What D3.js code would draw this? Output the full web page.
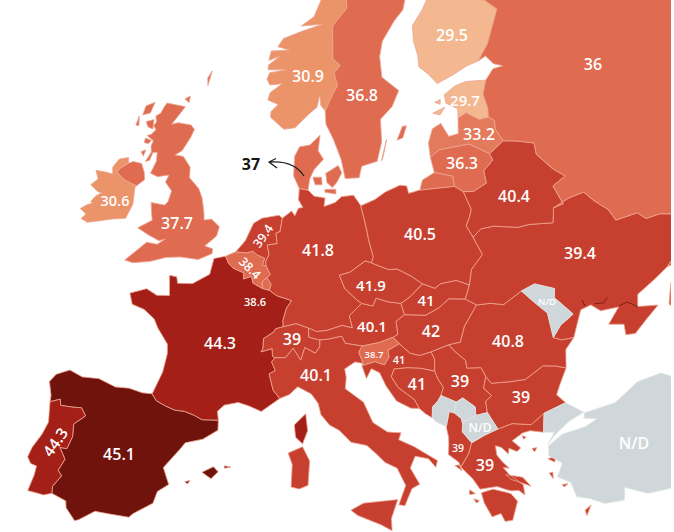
<!DOCTYPE html>
<html><head><meta charset="utf-8">
<script src="https://cdn.jsdelivr.net/npm/d3@7"></script>
<style>html,body{margin:0;padding:0;background:#fff}svg{display:block}text{font-family:"Open Sans",sans-serif;font-weight:600;fill:#fff;text-anchor:middle;dominant-baseline:central}</style>
</head><body><svg id="map" width="674" height="532"></svg>
<script>
// values
const countries=["ES","PT","FR","BE","LU","NL","DE","CH","AT","CZ","PL","SK","HU","SI","HR","BA","RS","AL","GR","BG","RO","UA","BY","LT","LV","EE","FI","RU","NO","SE","DK","GB","IE","IT","MD","MK","ME","KO","TR"];
const values=[45.1,44.3,44.3,38.4,38.6,39.4,41.8,39,40.1,41.9,40.5,41,42,38.7,41,41,39,39,39,39,40.8,39.4,40.4,36.3,33.2,29.7,29.5,36,30.9,36.8,37,37.7,30.6,40.1,null,null,null,null,null];
const colorBreaks=[30,31,34,39,43,44.5];
const colorRange=["#f3b88f","#ec9469","#e27a5b","#df6b50","#c73f2f","#a31f17","#70130d"];
const noData="#d0d7da";
// shared borders and coasts, lon/lat
const ES_PT=[[-8.87,41.87],[-8.2,42.13],[-8.08,41.82],[-7.2,41.88],[-6.6,41.95],[-6.2,41.58],[-6.9,41.02],[-6.8,40.35],[-7.02,39.67],[-7.5,39.65],[-7,39.1],[-7.3,38.45],[-7,38.2],[-7.45,37.55],[-7.4,37.18]];
const PT_C=[[-7.4,37.18],[-7.9,37],[-8.99,37.02],[-8.8,37.9],[-8.78,38.4],[-9.2,38.45],[-9.5,38.75],[-9.35,39.3],[-8.9,40.1],[-8.65,40.8],[-8.75,41.3],[-8.87,41.87]];
const ES_N=[[-8.87,41.87],[-8.9,42.2],[-9.25,42.9],[-8.9,43.35],[-8,43.75],[-7,43.55],[-5.8,43.65],[-4.5,43.4],[-3.5,43.47],[-2.5,43.35],[-1.78,43.38]];
const FR_ES=[[-1.78,43.38],[-1.4,43.05],[-0.7,42.85],[0,42.7],[0.7,42.7],[1.45,42.55],[2,42.37],[3.17,42.43]];
const ES_S=[[3.17,42.43],[3.2,41.9],[2.2,41.35],[1,41.05],[0.7,40.7],[-0.3,39.6],[0.2,38.75],[-0.5,38.3],[-0.7,37.65],[-1.9,36.95],[-2.15,36.72],[-3.5,36.72],[-4.4,36.72],[-5.35,36.12],[-5.6,36.02],[-6.3,36.6],[-6.4,36.95],[-7.4,37.18]];
const FR_W=[[-1.78,43.38],[-1.25,44.6],[-1.1,45.6],[-1.2,46.1],[-2.1,46.85],[-2.5,47.3],[-3.4,47.7],[-4.4,47.85],[-4.75,48.4],[-3.5,48.8],[-2.6,48.55],[-1.6,48.65],[-1.85,49.7],[-1.25,49.68],[-1.1,49.35],[0.1,49.45],[1.4,50.05],[1.6,50.9],[2.54,51.09]];
const FR_BE=[[2.54,51.09],[2.9,50.7],[3.3,50.5],[4.2,50.3],[4.2,49.98],[4.85,50.15],[5,49.8],[5.8,49.55]];
const FR_LU=[[5.8,49.55],[6.37,49.47]];
const FR_DE=[[6.37,49.47],[7,49.2],[8.2,48.97],[7.8,48.55],[7.55,47.9],[7.6,47.58]];
const FR_CH=[[7.6,47.58],[7,47.45],[6.9,47.3],[6.1,46.9],[6.1,46.4],[5.97,46.2],[6.8,46.4],[6.85,46],[7.04,45.92]];
const FR_IT=[[7.04,45.92],[6.8,45.7],[7.1,45.25],[6.65,45.05],[7,44.2],[7.5,43.78]];
const FR_S=[[7.5,43.78],[6.9,43.45],[6.2,43.05],[5.3,43.3],[4.5,43.45],[3.5,43.25],[3.05,42.9],[3.17,42.43]];
const BE_C=[[2.54,51.09],[3.37,51.37]];
const BE_NL=[[3.37,51.37],[4.3,51.37],[4.8,51.48],[5.2,51.3],[5.85,51.15],[5.7,50.77],[6,50.75]];
const BE_DE=[[6,50.75],[6.4,50.3],[6.13,50.13]];
const BE_LU=[[6.13,50.13],[5.75,49.9],[5.8,49.55]];
const LU_DE=[[6.13,50.13],[6.5,49.8],[6.37,49.47]];
const NL_C=[[3.37,51.37],[4.1,52],[4.7,52.95],[5.4,53.25],[6.9,53.45],[7.2,53.3]];
const NL_DE=[[7.2,53.3],[7.05,52.6],[6.7,52.5],[6.85,51.95],[6,51.85],[6.2,51.35],[5.95,51],[6,50.75]];
const DE_NS=[[7.2,53.3],[8,53.7],[8.3,53.45],[8.6,53.85],[9,53.9],[8.6,54.3],[8.65,54.9]];
const DE_DK=[[8.65,54.9],[9.45,54.82]];
const DE_B=[[9.45,54.82],[10,54.5],[11,54.4],[10.9,53.95],[11.9,54.15],[12.5,54.45],[13.6,54.5],[14.2,53.92]];
const DE_PL=[[14.2,53.92],[14.4,53.3],[14.6,52.6],[14.7,52.1],[15,51.2],[14.82,50.87]];
const DE_CZ=[[14.82,50.87],[14.3,51],[13,50.45],[12.1,50.3],[12.5,49.6],[13.4,49],[13.83,48.77]];
const DE_AT=[[13.83,48.77],[13.45,48.55],[12.8,48.15],[13,47.5],[12.2,47.65],[11,47.4],[10.2,47.35],[9.57,47.53]];
const DE_CH=[[9.57,47.53],[8.6,47.75],[7.6,47.58]];
const CH_IT=[[7.04,45.92],[7.85,45.95],[8.4,46.45],[9,45.83],[9.3,46.5],[10.1,46.2],[10.45,46.55],[10.45,46.9]];
const AT_CH=[[10.45,46.9],[9.6,47.05],[9.57,47.53]];
const CZ_AT=[[13.83,48.77],[14.7,48.6],[15,49],[16,48.75],[16.95,48.62]];
const AT_SK=[[16.95,48.62],[17.15,48]];
const AT_HU=[[17.15,48],[16.45,47.7],[16.5,47],[16.1,46.87]];
const AT_SI=[[16.1,46.87],[15,46.65],[13.7,46.52]];
const AT_IT=[[13.7,46.52],[12.4,46.7],[12.15,47.08],[11.2,46.95],[10.45,46.9]];
const CZ_SK=[[16.95,48.62],[17.7,48.9],[18.85,49.52]];
const PL_C=[[14.2,53.92],[15.5,54.2],[16.5,54.55],[17.9,54.83],[18.5,54.75],[18.6,54.35],[19.65,54.45]];
const PL_RU=[[19.65,54.45],[22.8,54.36]];
const PL_LT=[[22.8,54.36],[23.5,54]];
const PL_BY=[[23.5,54],[23.9,53],[23.6,52.6],[23.2,52.2],[23.6,51.55]];
const PL_UA=[[23.6,51.55],[24.1,50.55],[23,49.9],[22.6,49.1]];
const PL_SK=[[22.6,49.1],[21.6,49.45],[20.3,49.4],[19.8,49.2],[18.85,49.52]];
const PL_CZ=[[18.85,49.52],[18,50],[16.9,50.45],[16.2,50.45],[14.82,50.87]];
const SK_UA=[[22.6,49.1],[22.1,48.4]];
const HU_SK=[[17.15,48],[18.8,47.85],[19.9,48.15],[20.8,48.55],[22.1,48.4]];
const HU_UA=[[22.1,48.4],[22.9,48]];
const HU_RO=[[22.9,48],[21.7,47],[21.2,46.2],[20.3,46.15]];
const HU_RS=[[20.3,46.15],[18.9,45.9]];
const SI_HU=[[16.1,46.87],[16.55,46.5]];
const HR_HU=[[16.55,46.5],[17.3,45.95],[18,45.78],[18.9,45.9]];
const SI_HR=[[16.55,46.5],[15.65,46.2],[15.7,45.85],[15.3,45.45],[14.6,45.65],[13.6,45.48]];
const SI_C=[[13.6,45.48],[13.7,45.6]];
const IT_SI=[[13.7,46.52],[13.4,46.2],[13.7,45.6]];
const HR_RS=[[18.9,45.9],[19.1,45.5],[19,44.87]];
const HR_BA=[[19,44.87],[18,45.1],[17,45.2],[16,45.2],[15.75,44.8],[16.2,44.2],[17.3,43.5],[17.6,43]];
const HR_C=[[13.6,45.48],[13.9,44.8],[14.3,45.3],[14.9,45.05],[15.3,44.35],[16,43.5],[17,43.05],[17.6,43]];
const BA_C=[[18.45,42.43],[18,42.68],[17.6,43]];
const BA_RS=[[19,44.87],[19.2,44.4],[19.5,43.95],[19.25,43.55]];
const ME_BA=[[18.45,42.43],[18.55,43],[19,43.3],[19.25,43.55]];
const ME_RS=[[19.25,43.55],[20.3,43.1]];
const ME_KO=[[20.3,43.1],[20.05,42.55]];
const AL_ME=[[19.37,41.87],[19.7,42.65],[20.05,42.55]];
const ME_C=[[19.37,41.87],[18.7,42.2],[18.45,42.43]];
const KO_RS=[[20.3,43.1],[20.8,43.27],[21.6,42.7],[21.55,42.25]];
const KO_MK=[[21.55,42.25],[20.75,42.05],[20.55,41.9]];
const AL_KO=[[20.55,41.9],[20.5,42.2],[20.05,42.55]];
const RO_RS=[[20.3,46.15],[20.65,45.8],[21.4,45.2],[21.4,44.8],[22.45,44.7],[22.7,44.2]];
const RS_BG=[[22.7,44.2],[22.4,43.6],[22.9,43.15],[22.4,42.9],[22.4,42.3]];
const RS_MK=[[22.4,42.3],[21.55,42.25]];
const BG_MK=[[22.4,42.3],[22.95,41.35]];
const GR_MK=[[21,40.85],[22,41.15],[22.95,41.35]];
const AL_MK=[[20.55,41.9],[20.45,41.5],[21,40.85]];
const AL_GR=[[20.05,39.65],[20.7,40.3],[21,40.85]];
const AL_C=[[20.05,39.65],[19.95,39.92],[19.3,40.4],[19.4,40.9],[19.45,41.3],[19.37,41.87]];
const GR_BG=[[22.95,41.35],[24,41.5],[25.3,41.25],[26.35,41.7]];
const TR_GR=[[26.05,40.72],[26.35,41.7]];
const BG_TR=[[26.35,41.7],[28,41.98]];
const GR_C=[[26.05,40.72],[25.15,40.95],[24.6,40.9],[23.8,40.6],[24.3,40.15],[24,40],[23.5,40.25],[23.4,39.95],[23,40.35],[22.6,40.5],[22.6,40],[22.9,39.6],[23.3,39.2],[22.9,39.3],[23.2,38.9],[24.05,38.2],[24.05,37.65],[23.7,37.95],[23.2,38],[22.9,38.1],[22.3,38.35],[21.15,38.35],[20.75,38.95],[20.05,39.65]];
const BG_C=[[28.6,43.75],[27.9,43],[27.5,42.5],[28,41.98]];
const RO_BG=[[28.6,43.75],[27.9,43.98],[27,44.15],[25.5,43.65],[24.3,43.7],[23,43.8],[22.7,44.2]];
const RO_C=[[29.7,45.2],[28.9,44.7],[28.6,43.75]];
const RO_UAN=[[22.9,48],[24,47.95],[25,47.75],[26.6,48.25]];
const RO_MD=[[26.6,48.25],[27.3,47.6],[28.2,46.8],[28.2,45.47]];
const RO_UAS=[[28.2,45.47],[28.75,45.25],[29.7,45.2]];
const MD_UA=[[28.2,45.47],[28.95,46],[30.1,46.4],[29,47.5],[29.2,47.95],[27.75,48.45],[26.6,48.25]];
const UA_BY=[[23.6,51.55],[24.4,51.9],[25.5,51.9],[27.5,51.55],[28.5,51.55],[30.5,51.3],[30.9,52.05]];
const UA_RU=[[30.9,52.05],[32.4,52.3],[33.8,52.35],[34.4,51.75],[35.3,51.05],[35.6,50.4],[37.5,50.35],[38,49.9],[39.2,49.85],[40.1,49.6],[39.7,48.6],[39.8,47.85],[38.2,47.15]];
const UA_C=[[38.2,47.15],[36.8,46.75],[35.3,46.35],[35,45.75],[36.5,45.45],[35.4,45],[34.2,44.45],[33.5,44.55],[33.6,45.1],[32.5,45.35],[33.6,46.05],[32.2,46.15],[31.6,46.6],[30.75,46.5],[30.25,45.9],[29.7,45.2]];
const BY_LT=[[23.5,54],[24.4,53.9],[25.7,54.2],[25.7,54.85],[26.75,55.3],[26.6,55.67]];
const BY_LV=[[26.6,55.67],[28.15,56.15]];
const BY_RU=[[28.15,56.15],[29.4,55.95],[30.9,55.6],[30.8,55],[31.8,54.05],[32.7,53.45],[31.4,53.15],[31.8,52.1],[30.9,52.05]];
const LT_RU=[[22.8,54.36],[22.8,54.9],[21.2,55.25]];
const LT_C=[[21.2,55.25],[21.05,56.07]];
const KA_C=[[21.2,55.25],[20,54.95],[19.65,54.45]];
const LT_LV=[[21.05,56.07],[22,56.4],[24.9,56.4],[26.6,55.67]];
const LV_C=[[21.05,56.07],[21.1,56.85],[21.7,57.55],[22.6,57.75],[23.15,57],[24.1,57.05],[24.4,57.87]];
const LV_EE=[[24.4,57.87],[25.3,58.05],[26.4,57.55],[27.35,57.55]];
const LV_RU=[[27.35,57.55],[27.85,57.3],[27.7,56.85],[28.15,56.15]];
const EE_C=[[24.4,57.87],[24.55,58.35],[23.5,58.75],[23.5,59.2],[24.8,59.55],[26,59.65],[28.05,59.47]];
const EE_RU=[[28.05,59.47],[27.4,58.8],[27.5,58],[27.35,57.55]];
const EE_SAAREMAA=[[22,58.35],[23.3,58.55],[22.7,58.2]];
const EE_HIIUMAA=[[22.4,58.9],[23,59],[22.9,58.75]];
const FI_C=[[24.15,65.8],[25.3,65.3],[24.6,64.8],[23,63.85],[21.5,63.1],[21.3,62.3],[21.5,61.5],[21.4,60.9],[22.3,60.4],[23,59.85],[24.9,60.15],[26.5,60.45],[27.8,60.55]];
const FI_RU=[[27.8,60.55],[29.3,61.3],[31.5,62.9],[30,63.8],[29.6,64.9],[30.1,65.7],[29.1,66.9],[29,68],[28.5,69],[28.9,69.9]];
const FI_NO=[[28.9,69.9],[26,70],[21,69],[20.6,69.05]];
const FI_SE=[[20.6,69.05],[23.9,68],[23.6,67.3],[24.15,65.8]];
const RU_G=[[27.8,60.55],[28.7,60.7],[29.3,60.2],[30.2,59.95],[29.1,59.95],[28.05,59.47]];
const RU_E=[[38.2,47.15],[39.3,47.1],[38,46.3],[37.3,45.3],[37.8,44.7],[39.5,43.6],[41.5,42.6],[48,42],[70,50],[70,70],[40,68],[33,69.5],[28.9,69.9]];
const NO_SE=[[11.15,59],[12,59.9],[12.5,60.3],[12.2,61],[12.9,61.4],[12.1,61.75],[12.2,63.5],[14,64.4],[14,65.2],[15.5,66.3],[18.1,68.5],[20.6,69.05]];
const NO_C=[[28.9,69.9],[30,70],[25,71],[20,70],[16,69],[14,67.5],[12.5,66.5],[11,65],[10,64],[8.5,63.5],[11,63.6],[8.5,63.2],[6.5,62.8],[5.9,62.35],[7.2,62.2],[5.2,62.1],[5,61.6],[6.2,61.85],[5,61.35],[5,61.1],[7,61.15],[5.2,60.95],[4.95,60.6],[5.3,60.3],[6.6,60.4],[5.4,59.9],[5.2,59.5],[6.3,59.3],[5.6,58.9],[5.6,58.6],[7,58],[8.1,58.1],[9.5,58.85],[10.3,59.2],[10.6,59.85],[10.7,59.3],[11.15,59]];
const SE_C=[[11.15,59],[11.2,58.3],[11.9,57.5],[12.6,56.4],[12.9,55.4],[14.2,55.4],[14.5,56],[16,56.2],[16.6,57.2],[16.7,58.4],[18,59],[18.9,59.8],[17.3,60.6],[17.3,61.7],[17.8,62.5],[19.5,63.5],[20.7,64],[21.4,64.8],[22.3,65.6],[24.15,65.8]];
const SE_GOTLAND=[[18.1,57.2],[18.8,57.9],[19.2,57.9],[18.7,57.3]];
const SE_OLAND=[[16.4,56.2],[17.1,57.3],[16.6,56.4]];
const DK_J=[[8.65,54.9],[8.1,55.55],[8.15,56.6],[8.6,57.1],[9.6,57.2],[10.6,57.72],[10.4,56.9],[10.9,56.45],[10,55.9],[9.6,55.4],[9.45,54.82]];
const DK_FUNEN=[[9.9,55.5],[10.7,55.5],[10.75,55.1],[10.1,55.1]];
const DK_ZEALAND=[[11.1,55.7],[12.3,56.1],[12.6,55.7],[12.1,55.2],[11.7,54.95],[11.2,55.2]];
const DK_LOLLAND=[[11,54.85],[12,54.85],[12,54.6],[11,54.7]];
const GB_MAIN=[[1.4,51.15],[1.4,51.4],[0.7,51.5],[1.6,52.1],[1.75,52.6],[1,52.95],[0.35,52.85],[0.3,53.1],[0.1,53.6],[-0.1,54],[-0.5,54.45],[-1.5,54.95],[-1.6,55.5],[-2.4,56],[-3.2,56],[-2.6,56.3],[-2,57.1],[-1.8,57.5],[-2.2,57.7],[-3.5,57.7],[-4.1,57.55],[-3.1,58.6],[-5,58.6],[-5.2,58.35],[-5.4,58],[-5.8,57.8],[-5.6,57.5],[-5.8,57.3],[-5.5,57.1],[-5.85,56.8],[-6.2,56.7],[-5.5,56.5],[-5.6,56.2],[-5.45,55.9],[-5.8,55.35],[-5.45,55.45],[-5.3,55.9],[-4.9,55.95],[-4.8,55.5],[-5.1,54.8],[-4.4,54.7],[-3.4,54.9],[-3.6,54.5],[-2.9,54.1],[-3.05,53.5],[-3.3,53.3],[-4.5,53.3],[-4.3,52.8],[-4.1,52.4],[-5.2,51.85],[-4.2,51.6],[-3.2,51.4],[-2.7,51.55],[-3.3,51.2],[-4.2,51.2],[-5.7,50.05],[-5,50],[-3.6,50.25],[-2.4,50.6],[-1.2,50.75],[0.3,50.75]];
const GB_LEWIS=[[-7,58.2],[-6.2,58.5],[-6.4,57.9],[-7.1,57.7]];
const GB_SKYE=[[-6.6,57.4],[-5.9,57.6],[-5.8,57.1],[-6.3,57.15]];
const GB_UIST=[[-7.4,57.6],[-7.2,57.1],[-7.5,57.1]];
const GB_MULL=[[-6.3,56.55],[-5.7,56.5],[-5.9,56.3],[-6.3,56.3]];
const GB_ISLAY=[[-6.4,55.8],[-6,55.95],[-6.1,55.6]];
const GB_ORKNEY=[[-3.3,59],[-2.8,59.2],[-2.8,58.85]];
const GB_SHETLAND=[[-1.35,60.3],[-1,60.7],[-1.2,59.9]];
const IE_NI=[[-7.3,55.05],[-7.9,54.7],[-8.15,54.45],[-7.3,54.15],[-6.6,54.05],[-6.1,54]];
const NI_C=[[-6.1,54],[-5.5,54.4],[-5.7,54.8],[-6.1,55.2],[-6.9,55.2],[-7.3,55.05]];
const IE_C=[[-7.3,55.05],[-7.4,55.35],[-8.2,55.15],[-8.6,54.65],[-8.45,54.3],[-9.2,54.3],[-10,54.25],[-9.6,53.85],[-10.1,53.45],[-9.3,53.2],[-8.95,53.2],[-9.4,52.95],[-9.7,52.6],[-9.5,52.55],[-9.9,52.4],[-10.4,52.1],[-9.8,51.9],[-10.1,51.6],[-9.5,51.5],[-8.3,51.8],[-7.5,52],[-6.4,52.2],[-6.05,53],[-6.2,53.9],[-6.1,54]];
const IT_C=[[13.7,45.6],[13.1,45.7],[12.3,45.35],[12.4,44.9],[12.3,44.3],[13.6,43.55],[14.2,42.45],[15.2,41.9],[16.15,41.8],[15.95,41.45],[17,41],[18.5,40.15],[18.35,39.8],[17.9,40.3],[17,40.5],[16.6,39.9],[17.15,39],[16.6,38.8],[16.05,37.93],[15.65,38],[16.2,39],[15.7,39.95],[14.9,40.3],[14.3,40.8],[13.7,41.25],[12.6,41.45],[11.8,42.1],[11.1,42.4],[10.5,42.95],[10.3,43.55],[9.8,44.05],[8.8,44.42],[8.2,44],[7.5,43.78]];
const IT_SICILY=[[12.45,37.85],[13.3,38.2],[15.6,38.28],[15.1,37.3],[15.1,36.65],[14.4,37],[12.9,37.55]];
const IT_SARDINIA=[[8.2,40.9],[9.2,41.25],[9.7,40.5],[9.6,39.2],[9,39],[8.45,39.1],[8.5,40.3]];
const FR_CORSICA=[[9.4,43],[9.55,42.1],[9.2,41.4],[8.7,41.75],[8.6,42.4]];
const ES_MALLORCA=[[2.35,39.6],[3.1,39.95],[3.45,39.7],[3,39.3]];
const ES_MENORCA=[[3.85,40.05],[4.3,40],[3.85,39.92]];
const ES_IBIZA=[[1.25,39],[1.6,39.1],[1.45,38.9]];
const GR_PELOPONNESE=[[21.2,38.15],[22,38.25],[22.9,37.95],[23.15,37.85],[23.5,37.4],[23,36.45],[22.5,36.45],[22.3,36.9],[21.7,36.8],[21.3,37.6]];
const GR_CRETE=[[23.55,35.5],[24.2,35.45],[25.7,35.3],[26.3,35.2],[25,34.95],[23.6,35.25]];
const GR_EUBOEA=[[23,38.9],[24.1,38.6],[24.55,38.05],[24,38.3],[23.3,38.6]];
const GR_LESBOS=[[26,39.3],[26.6,39.35],[26.4,39.05]];
const GR_CHIOS=[[25.9,38.55],[26.15,38.55],[26.1,38.2]];
const GR_SAMOS=[[26.6,37.8],[27,37.78],[26.7,37.65]];
const GR_THASOS=[[24.55,40.78],[24.8,40.65],[24.6,40.57]];
const GR_CORFU=[[19.65,39.78],[19.95,39.78],[20.1,39.45]];
const GR_KEFALONIA=[[20.45,38.4],[20.8,38.15],[20.4,38.15]];
const GR_ZAKYNTHOS=[[20.65,37.9],[21,37.75],[20.8,37.65]];
const GR_RHODES=[[27.75,36.2],[28.2,36.4],[27.8,35.9]];
const GR_LEMNOS=[[25.05,40],[25.4,40],[25.2,39.8]];
const TR_THRACE=[[28,41.98],[29.1,41.25],[28,41],[27.3,40.7],[26.7,40.4],[26.2,40.05],[26.8,40.6],[26.05,40.72]];
const TR_ANATOLIA=[[26.2,39.95],[27.3,40.4],[29,40.5],[29.9,40.75],[29,40.95],[29.15,41.22],[31.4,41.3],[33.3,42],[35.1,42.05],[36.5,41.3],[38.4,40.95],[41.5,41.5],[44,40],[44,36],[36,36],[35.5,36.6],[33.5,36.1],[32,36.2],[30.6,36.85],[30.4,36.2],[29.1,36.3],[28.2,36.75],[27.4,37],[27.2,37.8],[26.4,38.25],[26.9,38.9],[26.1,39.45]];
// dark inlets in the Ukrainian coast
const SYVASH=[[33.65,46.1],[34.3,46.15],[34.6,46],[35,45.72]];
const DNIPRO=[[31.9,46.6],[32.6,46.5],[33,46.72]];
const TYLIHUL=[[31.15,46.62],[31.05,47]];
const r=a=>a.slice().reverse();
const join=(...s)=>s.flat();
const shapes={
 ES:[join(ES_N,FR_ES,ES_S,r(ES_PT)),ES_MALLORCA,ES_MENORCA,ES_IBIZA],
 PT:[join(ES_PT,PT_C)],
 FR:[join(FR_W,FR_BE,FR_LU,FR_DE,FR_CH,FR_IT,FR_S,r(FR_ES)),FR_CORSICA],
 BE:[join(BE_C,BE_NL,BE_DE,BE_LU,r(FR_BE))],
 LU:[join(BE_LU,FR_LU,r(LU_DE))],
 NL:[join(NL_C,NL_DE,r(BE_NL))],
 DE:[join(DE_NS,DE_DK,DE_B,DE_PL,DE_CZ,DE_AT,DE_CH,r(FR_DE),r(LU_DE),r(BE_DE),r(NL_DE))],
 CH:[join(DE_CH,FR_CH,CH_IT,AT_CH)],
 AT:[join(r(DE_AT),CZ_AT,AT_SK,AT_HU,AT_SI,AT_IT,AT_CH)],
 CZ:[join(r(DE_CZ),r(PL_CZ),r(CZ_SK),r(CZ_AT))],
 PL:[join(PL_C,PL_RU,PL_LT,PL_BY,PL_UA,PL_SK,PL_CZ,r(DE_PL))],
 SK:[join(CZ_SK,r(PL_SK),SK_UA,r(HU_SK),r(AT_SK))],
 HU:[join(HU_SK,HU_UA,HU_RO,HU_RS,r(HR_HU),r(SI_HU),r(AT_HU))],
 SI:[join(r(AT_SI),SI_HU,SI_HR,SI_C,r(IT_SI))],
 HR:[join(HR_HU,HR_RS,HR_BA,r(HR_C),r(SI_HR))],
 BA:[join(r(HR_BA),BA_RS,r(ME_BA),BA_C)],
 ME:[join(ME_BA,ME_RS,ME_KO,r(AL_ME),ME_C)],
 KO:[join(r(ME_KO),KO_RS,KO_MK,AL_KO)],
 RS:[join(r(HU_RS),RO_RS,RS_BG,RS_MK,r(KO_RS),r(ME_RS),r(BA_RS),r(HR_RS))],
 MK:[join(r(RS_MK),BG_MK,r(GR_MK),r(AL_MK),r(KO_MK))],
 AL:[join(AL_ME,r(AL_KO),AL_MK,r(AL_GR),AL_C)],
 GR:[join(AL_GR,GR_MK,GR_BG,r(TR_GR),GR_C),GR_PELOPONNESE,GR_CRETE,GR_EUBOEA,GR_LESBOS,GR_CHIOS,GR_SAMOS,GR_THASOS,GR_CORFU,GR_KEFALONIA,GR_ZAKYNTHOS,GR_RHODES,GR_LEMNOS],
 BG:[join(r(RS_BG),r(RO_BG),BG_C,r(BG_TR),r(GR_BG),r(BG_MK))],
 RO:[join(r(HU_RO),RO_UAN,RO_MD,RO_UAS,RO_C,RO_BG,r(RO_RS))],
 MD:[join(RO_MD,MD_UA)],
 UA:[join(r(PL_UA),UA_BY,UA_RU,UA_C,r(RO_UAS),MD_UA,r(RO_UAN),r(HU_UA),r(SK_UA))],
 BY:[join(r(PL_BY),BY_LT,BY_LV,BY_RU,r(UA_BY))],
 LT:[join(LT_C,LT_LV,r(BY_LT),r(PL_LT),LT_RU)],
 LV:[join(LV_C,LV_EE,LV_RU,r(BY_LV),r(LT_LV))],
 EE:[join(EE_C,EE_RU,r(LV_EE)),EE_SAAREMAA,EE_HIIUMAA],
 FI:[join(FI_C,FI_RU,FI_NO,FI_SE)],
 RU:[join(RU_G,EE_RU,LV_RU,BY_RU,UA_RU,RU_E,r(FI_RU)),join(PL_RU,LT_RU,KA_C)],
 NO:[join(NO_SE,r(FI_NO),NO_C)],
 SE:[join(SE_C,r(FI_SE),r(NO_SE)),SE_GOTLAND,SE_OLAND],
 DK:[join(DK_J,r(DE_DK)),DK_FUNEN,DK_ZEALAND,DK_LOLLAND],
 GB:[GB_MAIN,join(IE_NI,NI_C),GB_LEWIS,GB_SKYE,GB_UIST,GB_MULL,GB_ISLAY,GB_ORKNEY,GB_SHETLAND],
 IE:[join(IE_C,r(IE_NI))],
 IT:[join(IT_C,r(FR_IT),CH_IT,r(AT_IT),IT_SI),IT_SICILY,IT_SARDINIA],
 TR:[join(TR_GR,BG_TR,TR_THRACE),TR_ANATOLIA]
};
// label text placement (page layout, not data)
const labelSpots={ES:[119,454,16],PT:[55,442,15.5,-55],FR:[220,343,16],BE:[250,268,12.5,45],LU:[255,301,11],NL:[263,236,12.5,-55],DE:[318,250,16],CH:[292,339,16],AT:[372,326,15],CZ:[371,285,15],PL:[420,234,16],SK:[426,300,15],HU:[431,331,16],SI:[374,354,9.5],HR:[399,359,11],BA:[417,384,16],RS:[460,381,16],AL:[458,448,10.5],GR:[485,465,16],BG:[521,397,16],RO:[508,341,16],UA:[580,253,16],BY:[514,196,16],LT:[462,163,16],LV:[479,134,16],EE:[465,100,15],FI:[452,35,16],RU:[593,64,16],NO:[308,76,16],SE:[362,95,16],GB:[177,223,16],IE:[115,200,14.5],IT:[316,375,16],MD:[547,301,9.5],MK:[480,427,12],TR:[634,443,16]};

const svg=d3.select("#map");
svg.append("defs").append("clipPath").attr("id","c").append("rect").attr("width",671).attr("height",532);
const projection=d3.geoAzimuthalEqualArea().rotate([-10,-52]).scale(1085).translate([314,243.5]).precision(.3);
const path=d3.geoPath(projection);
const color=d3.scaleThreshold().domain(colorBreaks).range(colorRange);
const fixRing=ring=>{
  const c=ring.concat([ring[0]]);
  return d3.geoArea({type:"Polygon",coordinates:[c]})>2*Math.PI?c.reverse():c;
};
const features=countries.map((id,i)=>({type:"Feature",id,value:values[i],geometry:{type:"MultiPolygon",coordinates:shapes[id].map(s=>[fixRing(s)])}}));
const map=svg.append("g").attr("clip-path","url(#c)");
map.selectAll("path.land").data(features).join("path").attr("class","land")
  .attr("d",path)
  .attr("fill",d=>d.value==null?noData:color(d.value))
  .attr("stroke",d=>d.value==null?"#dfe4e6":"#eda592")
  .attr("stroke-width",.8)
  .attr("stroke-linejoin","round");
map.selectAll("path.inlet").data([SYVASH,DNIPRO,TYLIHUL]).join("path").attr("class","inlet")
  .attr("d",d=>path({type:"LineString",coordinates:d}))
  .attr("fill","none").attr("stroke","#7d1f16").attr("stroke-width",1);
svg.append("g").selectAll("text").data(features.filter(d=>labelSpots[d.id])).join("text")
  .attr("transform",d=>{const s=labelSpots[d.id];return `translate(${s[0]},${s[1]}) rotate(${s[3]||0})`;})
  .attr("font-size",d=>labelSpots[d.id][2])
  .text(d=>d.value==null?"N/D":d.value);
// Denmark callout
const dk=values[countries.indexOf("DK")];
svg.append("text").attr("x",251).attr("y",164).attr("font-size",16).style("fill","#161616").style("font-weight",700).text(dk);
const arrow=d3.path();
arrow.moveTo(304,176);arrow.quadraticCurveTo(294,160,269,162);
arrow.moveTo(276,158.5);arrow.lineTo(269,162);arrow.lineTo(277,168);
svg.append("path").attr("d",arrow.toString()).attr("fill","none").attr("stroke","#222").attr("stroke-width",1.3);
</script></body></html>
